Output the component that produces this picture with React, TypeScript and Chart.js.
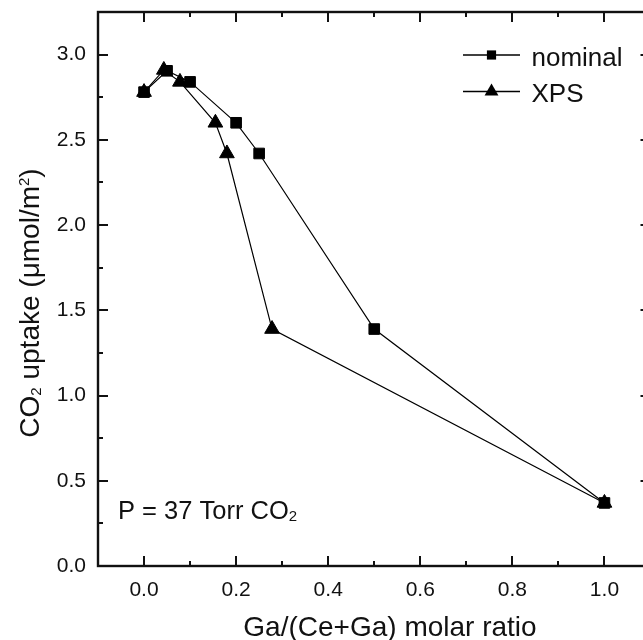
import React, { useEffect, useRef } from "react";
import { Chart, registerables } from "chart.js";

Chart.register(...registerables);

// CO2 uptake vs Ga fraction, nominal composition and XPS surface composition
const nominalX = [0, 0.05, 0.1, 0.2, 0.25, 0.5, 1.0];
const nominalY = [2.78, 2.905, 2.84, 2.6, 2.42, 1.39, 0.37];
const xpsX = [0, 0.043, 0.078, 0.155, 0.18, 0.278, 1.0];
const xpsY = [2.78, 2.91, 2.84, 2.6, 2.42, 1.39, 0.37];

const xMajorTicks = [0, 0.2, 0.4, 0.6, 0.8, 1.0];
const xMinorTicks = [0.1, 0.3, 0.5, 0.7, 0.9];
const yMajorTicks = [0, 0.5, 1.0, 1.5, 2.0, 2.5, 3.0];
const yMinorTicks = [0.25, 0.75, 1.25, 1.75, 2.25, 2.75];

const seriesNames = ["nominal", "XPS"];

const FONT = "'Liberation Sans', Arial, Helvetica, sans-serif";
const INK = "#111111";

type Piece = { text: string; size: number; dy?: number };

function measurePieces(ctx: CanvasRenderingContext2D, pieces: Piece[]) {
  let w = 0;
  for (const p of pieces) {
    ctx.font = `${p.size}px ${FONT}`;
    w += ctx.measureText(p.text).width;
  }
  return w;
}

function drawPieces(ctx: CanvasRenderingContext2D, pieces: Piece[], x: number, y: number) {
  let cx = x;
  ctx.textAlign = "left";
  ctx.textBaseline = "alphabetic";
  for (const p of pieces) {
    ctx.font = `${p.size}px ${FONT}`;
    ctx.fillText(p.text, cx, y + (p.dy || 0));
    cx += ctx.measureText(p.text).width;
  }
}

function drawMarker(ctx: CanvasRenderingContext2D, style: string, x: number, y: number, r: number) {
  ctx.beginPath();
  if (style === "rect") {
    const s = r * Math.SQRT1_2;
    ctx.rect(x - s, y - s, 2 * s, 2 * s);
  } else {
    let rad = 0;
    ctx.moveTo(x + Math.sin(rad) * r, y - Math.cos(rad) * r);
    rad += (2 * Math.PI) / 3;
    ctx.lineTo(x + Math.sin(rad) * r, y - Math.cos(rad) * r);
    rad += (2 * Math.PI) / 3;
    ctx.lineTo(x + Math.sin(rad) * r, y - Math.cos(rad) * r);
    ctx.closePath();
  }
  ctx.fill();
}

// Frame, inward tick marks, axis titles, annotation and legend
const decorations = {
  id: "decorations",
  afterDraw(chart: any) {
    const ctx: CanvasRenderingContext2D = chart.ctx;
    const { left, right, top, bottom } = chart.chartArea;
    const xs = chart.scales.x;
    const ys = chart.scales.y;
    ctx.save();
    ctx.strokeStyle = INK;
    ctx.fillStyle = INK;

    // ticks
    ctx.lineWidth = 2;
    const major = 10;
    const minor = 5;
    ctx.beginPath();
    for (const v of xMajorTicks) {
      const px = Math.round(xs.getPixelForValue(v));
      ctx.moveTo(px, bottom); ctx.lineTo(px, bottom - major);
      ctx.moveTo(px, top); ctx.lineTo(px, top + major);
    }
    for (const v of xMinorTicks) {
      const px = Math.round(xs.getPixelForValue(v));
      ctx.moveTo(px, bottom); ctx.lineTo(px, bottom - minor);
      ctx.moveTo(px, top); ctx.lineTo(px, top + minor);
    }
    for (const v of yMajorTicks) {
      const py = Math.round(ys.getPixelForValue(v));
      ctx.moveTo(left, py); ctx.lineTo(left + major, py);
      ctx.moveTo(right, py); ctx.lineTo(right - major, py);
    }
    for (const v of yMinorTicks) {
      const py = Math.round(ys.getPixelForValue(v));
      ctx.moveTo(left, py); ctx.lineTo(left + minor, py);
      ctx.moveTo(right, py); ctx.lineTo(right - minor, py);
    }
    ctx.stroke();

    // frame
    ctx.lineWidth = 2.4;
    ctx.strokeRect(left, top, right - left, bottom - top);

    // x axis title
    const xTitle: Piece[] = [{ text: "Ga/(Ce+Ga) molar ratio", size: 28 }];
    const xw = measurePieces(ctx, xTitle);
    drawPieces(ctx, xTitle, 390 - xw / 2, 636);

    // y axis title
    const yTitle: Piece[] = [
      { text: "CO", size: 28 },
      { text: "2", size: 15, dy: 2 },
      { text: " uptake (\u03BCmol/m", size: 28 },
      { text: "2", size: 15, dy: -10 },
      { text: ")", size: 28 },
    ];
    const yw = measurePieces(ctx, yTitle);
    ctx.save();
    ctx.translate(39, 303);
    ctx.rotate(-Math.PI / 2);
    drawPieces(ctx, yTitle, -yw / 2, 0);
    ctx.restore();

    // annotation
    drawPieces(
      ctx,
      [
        { text: "P = 37 Torr CO", size: 25.5 },
        { text: "2", size: 15, dy: 2 },
      ],
      118,
      518.5
    );

    // legend
    const rows = [
      { y: 55, style: "rect", r: 6.5 },
      { y: 91.5, style: "triangle", r: 8 },
    ];
    rows.forEach((row, i) => {
      const ds = chart.data.datasets[i];
      ctx.lineWidth = 1.3;
      ctx.strokeStyle = ds.borderColor;
      ctx.beginPath();
      ctx.moveTo(463, row.y);
      ctx.lineTo(520, row.y);
      ctx.stroke();
      ctx.fillStyle = ds.pointBackgroundColor;
      drawMarker(ctx, row.style, 491.5, row.y, row.r);
      ctx.fillStyle = INK;
      drawPieces(ctx, [{ text: ds.label, size: 26 }], 531.5, row.y + 10.5);
    });

    ctx.restore();
  },
};

export default function App() {
  const canvasRef = useRef<HTMLCanvasElement | null>(null);

  useEffect(() => {
    const canvas = canvasRef.current;
    if (!canvas) return;
    const chart = new Chart(canvas, {
      type: "line",
      data: {
        datasets: [
          {
            label: seriesNames[0],
            data: nominalX.map((x, i) => ({ x, y: nominalY[i] })),
            borderColor: "#000000",
            borderWidth: 1.2,
            pointStyle: "rect",
            pointRadius: 7.5,
            pointBackgroundColor: "#000000",
            pointBorderColor: "#000000",
            pointBorderWidth: 1,
            showLine: true,
            tension: 0,
          },
          {
            label: seriesNames[1],
            data: xpsX.map((x, i) => ({ x, y: xpsY[i] })),
            borderColor: "#000000",
            borderWidth: 1.2,
            pointStyle: "triangle",
            pointRadius: 8.5,
            pointBackgroundColor: "#000000",
            pointBorderColor: "#000000",
            pointBorderWidth: 1,
            showLine: true,
            tension: 0,
          },
        ],
      },
      options: {
        animation: false,
        responsive: false,
        devicePixelRatio: 1,
        layout: { padding: { top: 12, right: 9.5, left: 0, bottom: 0 } },
        plugins: {
          legend: { display: false },
          tooltip: { enabled: false },
        },
        scales: {
          x: {
            type: "linear",
            min: -0.1,
            max: 1.1,
            afterBuildTicks: (s: any) => {
              s.ticks = xMajorTicks.map((v) => ({ value: v }));
            },
            afterFit: (s: any) => {
              s.height = 74;
              s.paddingLeft = 0;
              s.paddingRight = 0;
            },
            grid: { display: false, drawTicks: false },
            border: { display: false },
            ticks: {
              padding: 12,
              color: INK,
              font: { family: FONT, size: 21 },
              maxRotation: 0,
              autoSkip: false,
              callback: (v: any) => Number(v).toFixed(1),
            },
          },
          y: {
            type: "linear",
            min: 0,
            max: 3.25,
            afterBuildTicks: (s: any) => {
              s.ticks = yMajorTicks.map((v) => ({ value: v }));
            },
            afterFit: (s: any) => {
              s.width = 98;
              s.paddingTop = 0;
              s.paddingBottom = 0;
            },
            grid: { display: false, drawTicks: false },
            border: { display: false },
            ticks: {
              padding: 12,
              color: INK,
              font: { family: FONT, size: 21 },
              autoSkip: false,
              callback: (v: any) => Number(v).toFixed(1),
            },
          },
        },
      },
      plugins: [decorations],
    } as any);
    return () => chart.destroy();
  }, []);

  return (
    <div
      style={{
        position: "fixed",
        left: 0,
        top: 0,
        width: 643,
        height: 640,
        overflow: "hidden",
        background: "#ffffff",
      }}
    >
      <canvas ref={canvasRef} width={660} height={640} style={{ display: "block" }} />
    </div>
  );
}
